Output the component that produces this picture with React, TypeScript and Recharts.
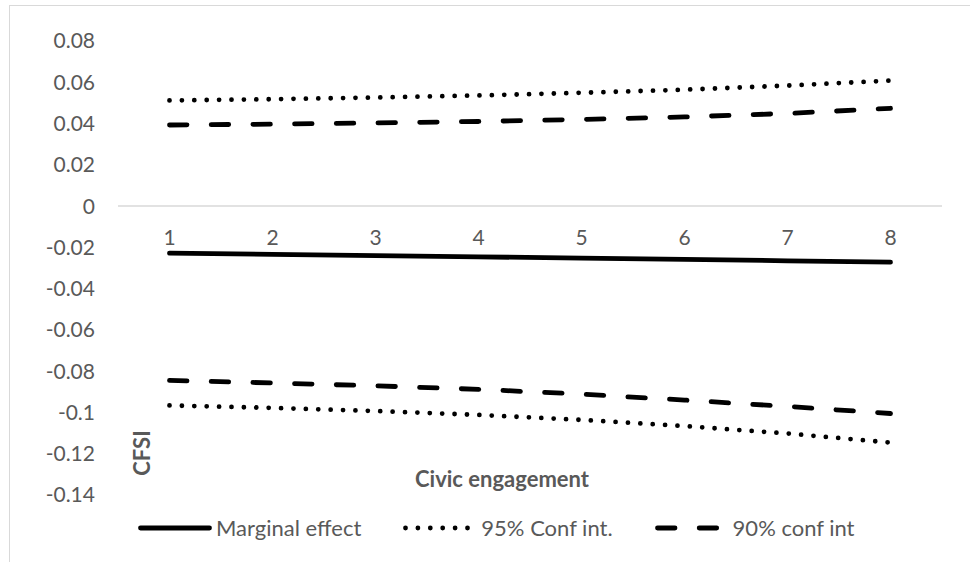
import { LineChart, Line, XAxis, YAxis, ReferenceLine, Legend } from "recharts"

const CATEGORIES = ["1", "2", "3", "4", "5", "6", "7", "8"]
const MARGINAL = [-0.0228, -0.0234, -0.024, -0.0246, -0.0252, -0.0258, -0.0265, -0.0272]
const CI95_UPPER = [0.0512, 0.0518, 0.0526, 0.0536, 0.0549, 0.0564, 0.0584, 0.0608]
const CI95_LOWER = [-0.0966, -0.0978, -0.0993, -0.1012, -0.1036, -0.1066, -0.1102, -0.1146]
const CI90_UPPER = [0.0393, 0.0397, 0.0403, 0.041, 0.042, 0.0432, 0.0449, 0.0474]
const CI90_LOWER = [-0.0845, -0.0857, -0.0871, -0.0888, -0.0911, -0.094, -0.0971, -0.1005]
const Y_TICKS = [0.08, 0.06, 0.04, 0.02, 0, -0.02, -0.04, -0.06, -0.08, -0.1, -0.12, -0.14]
const NAMES = { marginal: "Marginal effect", ci95: "95% Conf int.", ci90: "90% conf int" }
const LEGEND_ORDER = [NAMES.marginal, NAMES.ci95, NAMES.ci90]

const data = CATEGORIES.map((c, i) => ({
  cat: c,
  marginal: MARGINAL[i],
  ci95u: CI95_UPPER[i],
  ci95l: CI95_LOWER[i],
  ci90u: CI90_UPPER[i],
  ci90l: CI90_LOWER[i],
}))

const W = 970
const H = 562
const TOP = 41
const PLOT_H = 454
const Y_MAX = 0.08
const Y_MIN = -0.14
const ZERO_Y = TOP + (Y_MAX / (Y_MAX - Y_MIN)) * PLOT_H
const GREY = "#595959"
const FONT = 21

const DOTS = "0 12.4"
const DASHES = "17.5 24.2"

const XTick = ({ x, payload }: any) => (
  <text x={x} y={ZERO_Y + 30} textAnchor="middle" dominantBaseline="central" fill={GREY} fontSize={FONT}>
    {payload.value}
  </text>
)

const legendStyle: Record<string, { dash?: string; width: number }> = {
  [NAMES.marginal]: { width: 4.8 },
  [NAMES.ci95]: { dash: DOTS, width: 4.8 },
  [NAMES.ci90]: { dash: DASHES, width: 4.8 },
}

const renderLegend = ({ payload }: any) => {
  const shown = new Set((payload || []).filter((p: any) => p.type !== "none").map((p: any) => p.value))
  const items = LEGEND_ORDER.filter(n => shown.has(n))
  return (
    <div style={{ display: "flex", alignItems: "center", paddingLeft: 138, whiteSpace: "nowrap" }}>
      {items.map((name, i) => {
        const s = legendStyle[name]
        return (
          <div key={i} style={{ display: "flex", alignItems: "center", marginRight: 42 }}>
            <svg width={74} height={12}>
              <line x1={2.5} y1={6} x2={71.5} y2={6} stroke="#000" strokeWidth={s.width}
                strokeDasharray={s.dash} strokeLinecap="round" />
            </svg>
            <span style={{ color: GREY, fontSize: 22, marginLeft: 4 }}>{name}</span>
          </div>
        )
      })}
    </div>
  )
}

export default function App() {
  return (
    <div style={{ position: "absolute", left: 0, top: 0, width: W, height: H, background: "#fff", fontFamily: "Lato, sans-serif" }}>
      <div style={{ position: "absolute", left: 9, top: 5, right: 0, bottom: 0, borderTop: "1.5px solid #d9d9d9", borderLeft: "1.5px solid #d9d9d9" }} />
      <LineChart width={W} height={H} data={data} margin={{ top: TOP, right: 28, left: 0, bottom: H - TOP - PLOT_H - 30 }}
        style={{ fontFamily: "Lato, sans-serif" }}>
        <XAxis dataKey="cat" height={30} axisLine={false} tickLine={false} tick={<XTick />}
          padding={{ left: 51.5, right: 51.5 }}
          label={{
            content: ({ viewBox }: any) => (
              <text x={viewBox.x + 384} y={viewBox.y - 17} textAnchor="middle" dominantBaseline="central"
                fill={GREY} fontSize={22} fontWeight="bold">Civic engagement</text>
            ),
          }} />
        <YAxis width={118} domain={[Y_MIN, Y_MAX]} ticks={Y_TICKS} axisLine={false} tickLine={false}
          tickSize={6} tickMargin={17} tick={{ fill: GREY, fontSize: FONT }}
          tickFormatter={(v: number) => String(Math.round(v * 100) / 100)}
          label={{
            content: ({ viewBox }: any) => (
              <text x={viewBox.x + viewBox.width + 23} y={453} textAnchor="middle" dominantBaseline="central"
                fill={GREY} fontSize={22} fontWeight="bold" transform={`rotate(-90 ${viewBox.x + viewBox.width + 23} 453)`}>CFSI</text>
            ),
          }} />
        <ReferenceLine y={0} stroke="#d9d9d9" strokeWidth={1.5} />
        <Legend layout="horizontal" verticalAlign="middle" align="center" content={renderLegend}
          wrapperStyle={{ top: 514, left: 0, width: W }} />
        <Line dataKey="marginal" name={NAMES.marginal} stroke="#000" strokeWidth={4.8} strokeLinecap="round"
          dot={false} activeDot={false} isAnimationActive={false} />
        <Line dataKey="ci95u" name={NAMES.ci95} stroke="#000" strokeWidth={4.8} strokeDasharray={DOTS} strokeLinecap="round"
          dot={false} activeDot={false} isAnimationActive={false} />
        <Line dataKey="ci90u" name={NAMES.ci90} stroke="#000" strokeWidth={4.8} strokeDasharray={DASHES} strokeLinecap="round"
          dot={false} activeDot={false} isAnimationActive={false} />
        <Line dataKey="ci90l" name={NAMES.ci90} legendType="none" stroke="#000" strokeWidth={4.8} strokeDasharray={DASHES} strokeLinecap="round"
          dot={false} activeDot={false} isAnimationActive={false} />
        <Line dataKey="ci95l" name={NAMES.ci95} legendType="none" stroke="#000" strokeWidth={4.8} strokeDasharray={DOTS} strokeLinecap="round"
          dot={false} activeDot={false} isAnimationActive={false} />
      </LineChart>
    </div>
  )
}
